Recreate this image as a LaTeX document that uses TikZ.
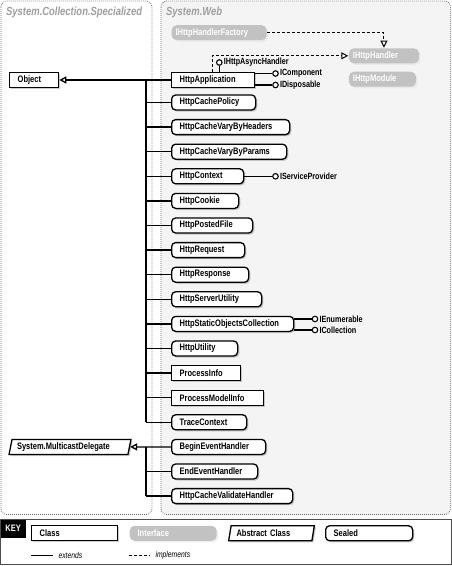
\documentclass[tikz,border=0pt]{standalone}
\usepackage{fontspec}
\usetikzlibrary{arrows.meta}
\usetikzlibrary{shapes.geometric}
\usetikzlibrary{shadows}
\newfontfamily\umlfont{Liberation Sans}[FakeStretch=0.8]
\definecolor{ifacegray}{gray}{0.76}
\definecolor{titlegray}{gray}{0.62}
\definecolor{panelgray}{gray}{0.955}
\newcommand\boxfont[0]{\umlfont\bfseries\fontsize{9.4}{10}\selectfont}

\tikzset{
  box/.style={draw, line width=1.3pt, fill=white, anchor=west, minimum height=15pt,
    inner ysep=0pt, inner xsep=8pt, align=left, font=\boxfont},
  boxshadow/.style={drop shadow={shadow xshift=1.6pt, shadow yshift=-1.6pt, fill=black!40}},
  class/.style={box, boxshadow},
  sealed/.style={box, boxshadow, rounded corners=4pt},
  iface/.style={box, draw=none, fill=ifacegray, text=white, inner xsep=4pt, rounded corners=5pt,
    drop shadow={shadow xshift=1.6pt, shadow yshift=-1.6pt, fill=black!12}},
  abstract/.style={box, boxshadow, anchor=center, trapezium, trapezium left angle=72,
    trapezium right angle=108, trapezium stretches=true, inner xsep=2pt},
  title/.style={anchor=base west, inner sep=0pt, text=titlegray,
    font=\umlfont\bfseries\itshape\fontsize{11.8}{12}\selectfont},
  panel/.style={draw=black!60, line width=0.8pt, dash pattern=on 0.8pt off 1.2pt, rounded corners=6pt},
  line/.style={draw, line width=1.3pt},
  ext/.style={line, -{Triangle[fill=white, length=7pt, width=7pt]}},
  impl/.style={draw, line width=1pt, dash pattern=on 3pt off 2pt, -{Triangle[fill=white, length=7pt, width=7pt]}},
  lollipop/.style={circle, draw, line width=1.1pt, fill=white, inner sep=0pt, minimum size=5.5pt},
  lollitext/.style={anchor=west, inner xsep=1pt, inner ysep=0pt, font=\umlfont\bfseries\fontsize{9}{9}\selectfont},
  keytext/.style={inner xsep=5pt, font=\umlfont\itshape\fontsize{8.5}{9}\selectfont}
}

\begin{document}
\begin{tikzpicture}[x=1pt,y=-1pt]
\useasboundingbox (0,0) rectangle (452,566);

\draw[panel] (1,1) rectangle (152,514.5);
\draw[panel, fill=panelgray] (161,1) rectangle (450.5,514.5);
\node[title] (SpecializedTitle) at (6,15) {System.Collection.Specialized};
\node[title] (WebTitle) at (166,15) {System.Web};

\node[class, text width=33pt] (Object) at (9,80) {Object};
\node[abstract, minimum width=122pt, text width=106pt] (MulticastDelegate) at (70,446.9) {System.MulticastDelegate};

\node[iface, text width=87pt] (IHttpHandlerFactory) at (171,32.7) {IHttpHandlerFactory};
\node[iface, text width=62pt] (IHttpHandler) at (348.3,55.8) {IHttpHandler};
\node[iface, text width=59pt] (IHttpModule) at (348.3,79.2) {IHttpModule};

\node[class, text width=67pt] (HttpApplication) at (171,80) {HttpApplication};
\node[sealed, text width=68pt] (HttpCachePolicy) at (171,102.5) {HttpCachePolicy};
\node[sealed, text width=102pt] (HttpCacheVaryByHeaders) at (171,127.1) {HttpCacheVaryByHeaders};
\node[sealed, text width=99pt] (HttpCacheVaryByParams) at (171,151.7) {HttpCacheVaryByParams};
\node[sealed, text width=56pt] (HttpContext) at (171,176.3) {HttpContext};
\node[sealed, text width=51pt] (HttpCookie) at (171,200.9) {HttpCookie};
\node[sealed, text width=65pt] (HttpPostedFile) at (171,225.5) {HttpPostedFile};
\node[sealed, text width=57pt] (HttpRequest) at (171,250.1) {HttpRequest};
\node[sealed, text width=61pt] (HttpResponse) at (171,274.7) {HttpResponse};
\node[sealed, text width=74pt] (HttpServerUtility) at (171,299.3) {HttpServerUtility};
\node[sealed, text width=106pt] (HttpStaticObjectsCollection) at (171,323.9) {HttpStaticObjectsCollection};
\node[sealed, text width=50pt] (HttpUtility) at (171,348.5) {HttpUtility};
\node[class, text width=53pt] (ProcessInfo) at (171,373.1) {ProcessInfo};
\node[class, text width=76pt] (ProcessModelInfo) at (171,397.7) {ProcessModelInfo};
\node[sealed, text width=59pt] (TraceContext) at (171,422.3) {TraceContext};
\node[sealed, text width=78pt] (BeginEventHandler) at (171,446.9) {BeginEventHandler};
\node[sealed, text width=70pt] (EndEventHandler) at (171,471.5) {EndEventHandler};
\node[sealed, text width=105pt] (HttpCacheValidateHandler) at (171,496.1) {HttpCacheValidateHandler};

\coordinate (ObjectTrunk) at (146,80);
\coordinate (DelegateTrunk) at (146,446.9);

\draw[ext] (HttpApplication.west) -- (Object.east);
\draw[line] (ObjectTrunk) -- (ObjectTrunk |- TraceContext.west);
\draw[line] (HttpCachePolicy.west) -- (HttpCachePolicy.west -| ObjectTrunk);
\draw[line] (HttpCacheVaryByHeaders.west) -- (HttpCacheVaryByHeaders.west -| ObjectTrunk);
\draw[line] (HttpCacheVaryByParams.west) -- (HttpCacheVaryByParams.west -| ObjectTrunk);
\draw[line] (HttpContext.west) -- (HttpContext.west -| ObjectTrunk);
\draw[line] (HttpCookie.west) -- (HttpCookie.west -| ObjectTrunk);
\draw[line] (HttpPostedFile.west) -- (HttpPostedFile.west -| ObjectTrunk);
\draw[line] (HttpRequest.west) -- (HttpRequest.west -| ObjectTrunk);
\draw[line] (HttpResponse.west) -- (HttpResponse.west -| ObjectTrunk);
\draw[line] (HttpServerUtility.west) -- (HttpServerUtility.west -| ObjectTrunk);
\draw[line] (HttpStaticObjectsCollection.west) -- (HttpStaticObjectsCollection.west -| ObjectTrunk);
\draw[line] (HttpUtility.west) -- (HttpUtility.west -| ObjectTrunk);
\draw[line] (ProcessInfo.west) -- (ProcessInfo.west -| ObjectTrunk);
\draw[line] (ProcessModelInfo.west) -- (ProcessModelInfo.west -| ObjectTrunk);
\draw[line] (TraceContext.west) -- (TraceContext.west -| ObjectTrunk);

\draw[ext] (BeginEventHandler.west) -- (MulticastDelegate.east);
\draw[line] (DelegateTrunk) -- (DelegateTrunk |- HttpCacheValidateHandler.west);
\draw[line] (EndEventHandler.west) -- (EndEventHandler.west -| DelegateTrunk);
\draw[line] (HttpCacheValidateHandler.west) -- (HttpCacheValidateHandler.west -| DelegateTrunk);

\draw[impl] (IHttpHandlerFactory.east) -| (IHttpHandler.north);
\draw[impl] ([xshift=41pt]HttpApplication.north west) |- (IHttpHandler.west);

\node[lollipop] (IHttpAsyncHandler) at (219.3,62.5) {};
\node[lollitext] (IHttpAsyncHandlerText) at (IHttpAsyncHandler.east) {IHttpAsyncHandler};
\draw[line] (IHttpAsyncHandler) -- (IHttpAsyncHandler |- HttpApplication.north);
\node[lollipop] (IComponent) at (275.5,73.5) {};
\node[lollitext] (IComponentText) at (IComponent.east) {IComponent};
\draw[line] (IComponent) -- (HttpApplication.east |- IComponent);
\node[lollipop] (IDisposable) at (275.5,85) {};
\node[lollitext] (IDisposableText) at (IDisposable.east) {IDisposable};
\draw[line] (IDisposable) -- (HttpApplication.east |- IDisposable);
\node[lollipop] (IServiceProvider) at (275.5,176.3) {};
\node[lollitext] (IServiceProviderText) at (IServiceProvider.east) {IServiceProvider};
\draw[line] (IServiceProvider) -- (HttpContext.east);
\node[lollipop] (IEnumerable) at (315,319) {};
\node[lollitext] (IEnumerableText) at (IEnumerable.east) {IEnumerable};
\draw[line] (IEnumerable) -- (HttpStaticObjectsCollection.east |- IEnumerable);
\node[lollipop] (ICollection) at (315,330) {};
\node[lollitext] (ICollectionText) at (ICollection.east) {ICollection};
\draw[line] (ICollection) -- (HttpStaticObjectsCollection.east |- ICollection);

\draw[black!70, line width=0.9pt] (0.5,519.5) rectangle (451.5,564.5);
\node[fill=black, text=white, anchor=north west, minimum width=25pt, minimum height=18pt, inner sep=0pt, font=\boxfont] (KeyTab) at (0.5,519.5) {KEY};
\node[class, text width=70pt] (KeyClass) at (31,533.3) {Class};
\node[iface, inner xsep=8pt, text width=71pt] (KeyInterface) at (129,533.3) {Interface};
\node[abstract, minimum width=86pt, text width=70pt] (KeyAbstract) at (271.5,533.3) {Abstract Class};
\node[sealed, text width=71pt] (KeySealed) at (325,533.3) {Sealed};
\coordinate (ExtendsStart) at (31,555.7);
\coordinate (ExtendsEnd) at (53,555.7);
\coordinate (ImplementsStart) at (129,555.7);
\coordinate (ImplementsEnd) at (150,555.7);
\draw[line, line width=1pt] (ExtendsStart) -- (ExtendsEnd) node[right, keytext] (ExtendsText) {extends};
\draw[line width=1pt, dash pattern=on 3pt off 2pt] (ImplementsStart) -- (ImplementsEnd) node[right, keytext] (ImplementsText) {implements};

\end{tikzpicture}
\end{document}
